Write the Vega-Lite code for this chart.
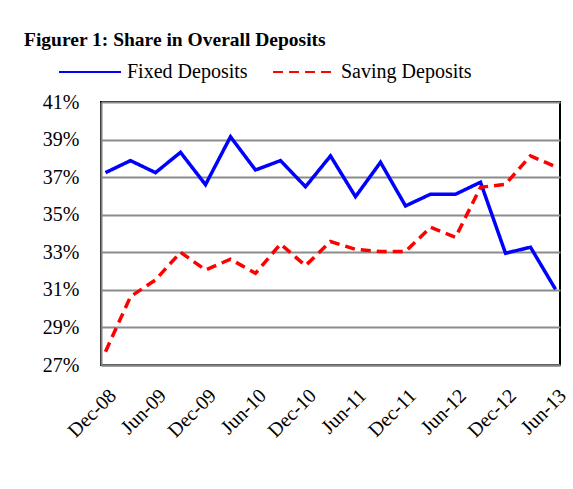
{
  "$schema": "https://vega.github.io/schema/vega-lite/v6.json",
  "autosize": "none",
  "width": 459,
  "height": 263,
  "padding": {"left": 101, "top": 102, "right": 13, "bottom": 124},
  "background": "white",
  "config": {
    "font": "Liberation Serif",
    "view": {"stroke": "black", "strokeWidth": 2}
  },
  "title": {
    "text": "Figurer 1: Share in Overall Deposits",
    "anchor": "start",
    "frame": "group",
    "font": "Liberation Serif",
    "fontSize": 19.5,
    "fontWeight": "bold",
    "color": "black",
    "dx": -77,
    "dy": 58,
    "offset": 48
  },
  "data": {
    "values": [
      {"date": "Dec-08", "series": "Fixed Deposits", "value": 37.24},
      {"date": "Mar-09", "series": "Fixed Deposits", "value": 37.88},
      {"date": "Jun-09", "series": "Fixed Deposits", "value": 37.24},
      {"date": "Sep-09", "series": "Fixed Deposits", "value": 38.32},
      {"date": "Dec-09", "series": "Fixed Deposits", "value": 36.60},
      {"date": "Mar-10", "series": "Fixed Deposits", "value": 39.15},
      {"date": "Jun-10", "series": "Fixed Deposits", "value": 37.38},
      {"date": "Sep-10", "series": "Fixed Deposits", "value": 37.88},
      {"date": "Dec-10", "series": "Fixed Deposits", "value": 36.49},
      {"date": "Mar-11", "series": "Fixed Deposits", "value": 38.13},
      {"date": "Jun-11", "series": "Fixed Deposits", "value": 35.96},
      {"date": "Sep-11", "series": "Fixed Deposits", "value": 37.79},
      {"date": "Dec-11", "series": "Fixed Deposits", "value": 35.47},
      {"date": "Mar-12", "series": "Fixed Deposits", "value": 36.09},
      {"date": "Jun-12", "series": "Fixed Deposits", "value": 36.09},
      {"date": "Sep-12", "series": "Fixed Deposits", "value": 36.73},
      {"date": "Dec-12", "series": "Fixed Deposits", "value": 32.95},
      {"date": "Mar-13", "series": "Fixed Deposits", "value": 33.27},
      {"date": "Jun-13", "series": "Fixed Deposits", "value": 31.03},
      {"date": "Dec-08", "series": "Saving Deposits", "value": 27.71},
      {"date": "Mar-09", "series": "Saving Deposits", "value": 30.64},
      {"date": "Jun-09", "series": "Saving Deposits", "value": 31.53},
      {"date": "Sep-09", "series": "Saving Deposits", "value": 33.00},
      {"date": "Dec-09", "series": "Saving Deposits", "value": 32.06},
      {"date": "Mar-10", "series": "Saving Deposits", "value": 32.63},
      {"date": "Jun-10", "series": "Saving Deposits", "value": 31.88},
      {"date": "Sep-10", "series": "Saving Deposits", "value": 33.44},
      {"date": "Dec-10", "series": "Saving Deposits", "value": 32.29},
      {"date": "Mar-11", "series": "Saving Deposits", "value": 33.57},
      {"date": "Jun-11", "series": "Saving Deposits", "value": 33.16},
      {"date": "Sep-11", "series": "Saving Deposits", "value": 33.04},
      {"date": "Dec-11", "series": "Saving Deposits", "value": 33.04},
      {"date": "Mar-12", "series": "Saving Deposits", "value": 34.33},
      {"date": "Jun-12", "series": "Saving Deposits", "value": 33.80},
      {"date": "Sep-12", "series": "Saving Deposits", "value": 36.46},
      {"date": "Dec-12", "series": "Saving Deposits", "value": 36.62},
      {"date": "Mar-13", "series": "Saving Deposits", "value": 38.13},
      {"date": "Jun-13", "series": "Saving Deposits", "value": 37.56}
    ]
  },
  "mark": {"type": "line", "strokeWidth": 3.5},
  "encoding": {
    "x": {
      "field": "date",
      "type": "nominal",
      "sort": null,
      "scale": {"type": "point", "padding": 0.18},
      "axis": {
        "title": null,
        "values": ["Dec-08", "Jun-09", "Dec-09", "Jun-10", "Dec-10", "Jun-11", "Dec-11", "Jun-12", "Dec-12", "Jun-13"],
        "labelAngle": -45,
        "labelFont": "Liberation Serif",
        "labelFontSize": 20,
        "labelColor": "black",
        "labelPadding": 20,
        "ticks": false,
        "domainColor": "#808080",
        "domainWidth": 2,
        "grid": false
      }
    },
    "y": {
      "field": "value",
      "type": "quantitative",
      "scale": {"domain": [27, 41], "nice": false, "zero": false},
      "axis": {
        "title": null,
        "values": [27, 29, 31, 33, 35, 37, 39, 41],
        "labelExpr": "datum.value + '%'",
        "labelFont": "Liberation Serif",
        "labelFontSize": 20,
        "labelColor": "black",
        "labelPadding": 22,
        "ticks": false,
        "domainColor": "#808080",
        "domainWidth": 2,
        "grid": true,
        "gridColor": "#8c8c8c",
        "gridWidth": 2
      }
    },
    "color": {
      "field": "series",
      "type": "nominal",
      "scale": {"domain": ["Fixed Deposits", "Saving Deposits"], "range": ["#0000ff", "#ff0000"]},
      "legend": {
        "title": null,
        "orient": "none",
        "direction": "horizontal",
        "legendX": -43,
        "legendY": -62,
        "symbolType": "stroke",
        "symbolSize": 3844,
        "symbolStrokeWidth": 2,
        "labelFont": "Liberation Serif",
        "labelFontSize": 20,
        "labelColor": "black",
        "labelOffset": 5,
        "columnPadding": 21
      }
    },
    "strokeDash": {
      "field": "series",
      "type": "nominal",
      "scale": {"domain": ["Fixed Deposits", "Saving Deposits"], "range": [[1, 0], [10, 6]]},
      "legend": null
    }
  }
}
